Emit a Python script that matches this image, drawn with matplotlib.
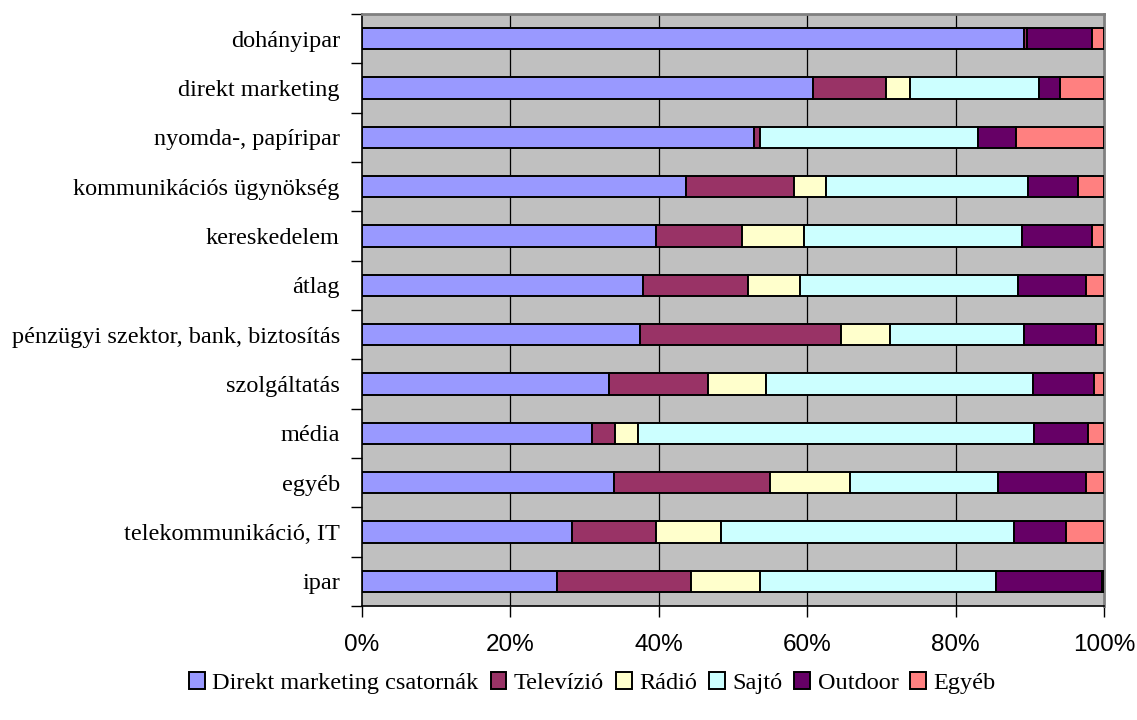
import matplotlib
matplotlib.use("Agg")
import matplotlib.pyplot as plt
import numpy as np

# Sectors, listed top to bottom
categories = [
    "dohányipar",
    "direkt marketing",
    "nyomda-, papíripar",
    "kommunikációs ügynökség",
    "kereskedelem",
    "átlag",
    "pénzügyi szektor, bank, biztosítás",
    "szolgáltatás",
    "média",
    "egyéb",
    "telekommunikáció, IT",
    "ipar",
]

series_names = ["Direkt marketing csatornák", "Televízió", "Rádió", "Sajtó", "Outdoor", "Egyéb"]

# Share of each channel per sector (%)
direkt_marketing = [89.2, 60.8, 52.8, 43.6, 39.6, 37.9, 37.4, 33.3, 31.0, 33.9, 28.3, 26.3]
televizio        = [0.4,  9.8,  0.9,  14.6, 11.6, 14.1, 27.2, 13.3, 3.1,  21.1, 11.3, 18.1]
radio            = [0.0,  3.3,  0.0,  4.3,  8.4,  7.0,  6.6,  7.9,  3.1,  10.8, 8.8,  9.3]
sajto            = [0.0,  17.4, 29.3, 27.3, 29.4, 29.4, 18.0, 35.9, 53.4, 19.9, 39.5, 31.7]
outdoor          = [8.8,  2.8,  5.2,  6.7,  9.4,  9.2,  9.7,  8.2,  7.2,  11.9, 7.0,  14.3]
egyeb            = [1.6,  5.9,  11.8, 3.5,  1.6,  2.4,  1.1,  1.4,  2.2,  2.4,  5.1,  0.3]

colors = ["#9999FF", "#993366", "#FFFFCC", "#CCFFFF", "#660066", "#FF8080"]

x_ticks = [0, 20, 40, 60, 80, 100]
x_labels = ["0%", "20%", "40%", "60%", "80%", "100%"]

serif = ["Liberation Serif", "DejaVu Serif"]
sans = ["Liberation Sans", "DejaVu Sans"]

fig = plt.figure(figsize=(11.37, 7.2), dpi=100)
ax = fig.add_axes([0.3184, 0.1583, 0.6526, 0.8223])
ax.set_facecolor("#C0C0C0")

data = np.array([direkt_marketing, televizio, radio, sajto, outdoor, egyeb])
totals = data.sum(axis=0)
shares = data / totals * 100

n = len(categories)
y = np.arange(n)[::-1]
left = np.zeros(n)
handles = []
for name, vals, col in zip(series_names, shares, colors):
    h = ax.barh(y, vals, left=left, height=0.43, color=col, edgecolor="black",
                linewidth=1.4, label=name, zorder=3)
    handles.append(h)
    left += vals

ax.set_xlim(0, 100)
ax.set_ylim(-0.5, n - 0.5)

# vertical gridlines
for xv in x_ticks[1:-1]:
    ax.axvline(xv, color="black", linewidth=0.9, zorder=1)

ax.set_xticks(x_ticks)
ax.set_xticklabels(x_labels, fontfamily=sans, fontsize=17.5)
ax.tick_params(axis="x", direction="out", length=8, width=1, pad=12, colors="black")

# major y ticks between categories, labels at bar centres
ax.set_yticks(np.arange(-0.5, n, 1.0))
ax.set_yticklabels([])
ax.tick_params(axis="y", which="major", direction="out", length=8, width=1)
ax.set_yticks(y, minor=True)
ax.set_yticklabels(categories, minor=True, fontfamily=serif, fontsize=17.5)
ax.tick_params(axis="y", which="minor", length=0, pad=16)

for side in ["left", "bottom"]:
    ax.spines[side].set_color("black")
    ax.spines[side].set_linewidth(1.2)
for side in ["top", "right"]:
    ax.spines[side].set_color("#808080")
    ax.spines[side].set_linewidth(2)

fig.legend(handles=handles, labels=series_names, loc="center",
           bbox_to_anchor=(0.521, 0.051), ncol=6, frameon=False,
           prop={"family": serif, "size": 17.5},
           handlelength=0.65, handleheight=0.65, handletextpad=0.3,
           columnspacing=0.5, borderaxespad=0)

fig.savefig("out.png", dpi=100)
